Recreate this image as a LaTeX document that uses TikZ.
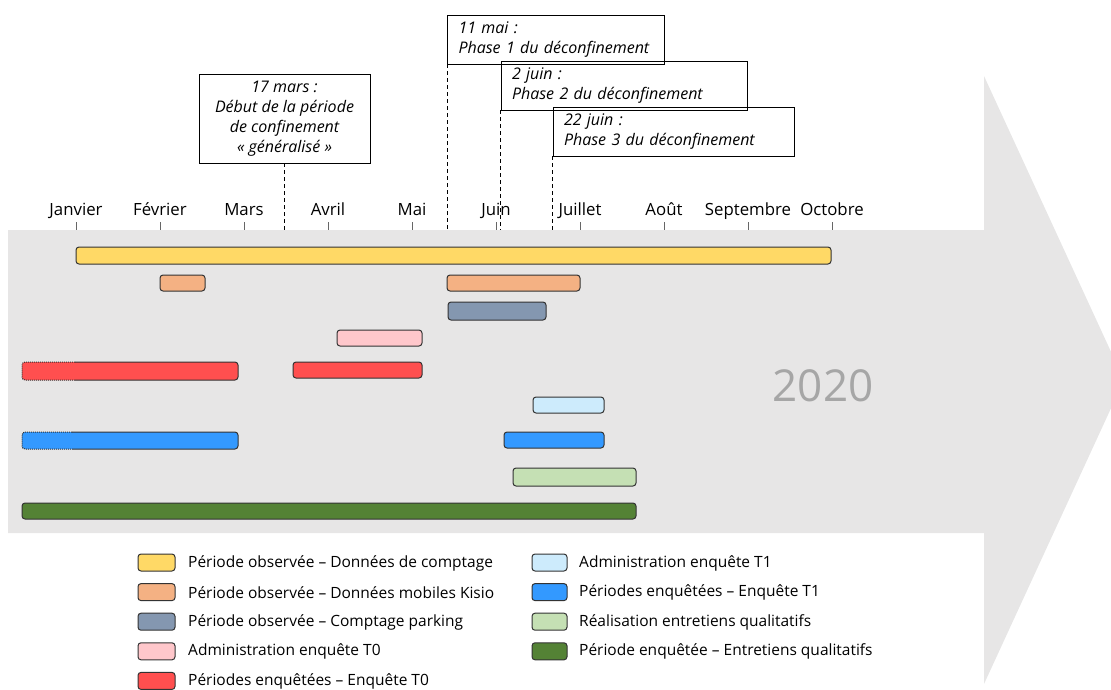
\documentclass[tikz,border=0pt]{standalone}
\usepackage{fontspec}
\setmainfont{Open Sans}
\usepackage{xcolor}
\usepackage{tikz}
\usetikzlibrary{positioning, calc}

\definecolor{fondgris}{HTML}{E7E6E6}
\definecolor{jaune}{HTML}{FFD966}
\definecolor{orange}{HTML}{F4B183}
\definecolor{ardoise}{HTML}{8497B0}
\definecolor{rose}{HTML}{FFC7CB}
\definecolor{rouge}{HTML}{FF4F4F}
\definecolor{bleuclair}{HTML}{CDEBFC}
\definecolor{bleu}{HTML}{3399FF}
\definecolor{vertclair}{HTML}{C5E0B4}
\definecolor{vertfonce}{HTML}{548235}
\definecolor{annee}{HTML}{A6A6A6}

\tikzset{
  mois/.style={font=\fontsize{16.8}{18}\selectfont, inner sep=0pt, anchor=base},
  repere/.style={draw=black!60, line width=0.6pt},
  evenement/.style={draw, line width=0.9pt, align=left, inner xsep=10pt,
    font=\itshape\fontsize{16}{20}\selectfont, minimum height=49pt},
  pointille/.style={dashed, line width=1pt, dash pattern=on 4pt off 3pt},
  barre/.style={draw=black!80, line width=1pt, rounded corners=3pt},
  legende/.style={anchor=west, font=\fontsize{15.5}{17}\selectfont, inner sep=0pt}
}

\begin{document}
\begin{tikzpicture}[x=1pt, y=-1pt]
    \useasboundingbox (0,0) rectangle (1111,689);

    % Fond (fleche 2020)
    \fill[fondgris] (8,230) -- (984,230) -- (984,76) -- (1124,380) -- (984,684)
        -- (984,533) -- (8,533) -- cycle;
    \node (annee) [text=annee, font=\fontsize{44}{44}\selectfont] at (823,386) {2020};

    % Mois
    \coordinate (axe) at (0,230);
    \foreach \m [count=\i from 0] in {Janvier, Février, Mars, Avril, Mai, Juin, Juillet, Août, Septembre, Octobre}{
        \node (m\i) [mois] at (76+84*\i, 215) {\m};
        \draw[repere] (76+84*\i, 222) -- (76+84*\i, 230);
    }

    % Evenements
    \node (mars17) [evenement, align=center, minimum width=171pt, minimum height=89pt] at (284.5,118.5)
        {17 mars :\\Début de la période\\de confinement\\« généralisé »};
    \node (mai11) [evenement, minimum width=217pt, text width=195pt] at (556,39.5)
        {11 mai :\\Phase 1 du déconfinement};
    \node (juin2) [evenement, minimum width=246pt, text width=224pt] at (624,85.5)
        {2 juin :\\Phase 2 du déconfinement};
    \node (juin22) [evenement, minimum width=241pt, text width=219pt] at (673.5,131.5)
        {22 juin :\\Phase 3 du déconfinement};

    \draw[pointille] (mars17.south) -- (mars17.south |- axe);
    \draw[pointille] (mai11.south west) -- (mai11.south west |- axe);
    \draw[pointille] (juin2.south west) -- (juin2.south west |- axe);
    \draw[pointille] (juin22.south west) -- (juin22.south west |- axe);

    % Barres
    \draw[barre, fill=jaune] (76,247) rectangle (831,264);
    \draw[barre, fill=orange] (160,275) rectangle (205,291);
    \draw[barre, fill=orange] (447,275) rectangle (580,291);
    \draw[barre, fill=ardoise] (448,302) rectangle (546,320);
    \draw[barre, fill=rose] (337,330) rectangle (422,346);
    \fill[rouge, rounded corners=3pt] (22,362) rectangle (238,380);
    \draw[barre, densely dotted] (75,362) -- (22,362) -- (22,380) -- (75,380);
    \draw[barre] (75,362) -- (238,362) -- (238,380) -- (75,380);
    \draw[barre, fill=rouge] (293,362) rectangle (422,378);
    \draw[barre, fill=bleuclair] (533,397) rectangle (604,413);
    \fill[bleu, rounded corners=3pt] (22,432) rectangle (238,449);
    \draw[barre, densely dotted] (72,432) -- (22,432) -- (22,449) -- (72,449);
    \draw[barre] (72,432) -- (238,432) -- (238,449) -- (72,449);
    \draw[barre, fill=bleu] (504,432) rectangle (604,448);
    \draw[barre, fill=vertclair] (513,468) rectangle (636,486);
    \draw[barre, fill=vertfonce] (22,503) rectangle (636,519);

    % Legende
    \foreach \c/\t [count=\k from 0] in {jaune/Période observée – Données de comptage,
        orange/Période observée – Données mobiles Kisio,
        ardoise/Période observée – Comptage parking,
        rose/Administration enquête T0,
        rouge/Périodes enquêtées – Enquête T0}{
        \draw[barre, fill=\c] (138,554+29.6*\k) rectangle (175,571+29.6*\k);
        \node (lg\k) [legende] at (188,563+29.6*\k) {\t};
    }
    \foreach \c/\t [count=\k from 0] in {bleuclair/Administration enquête T1,
        bleu/Périodes enquêtées – Enquête T1,
        vertclair/Réalisation entretiens qualitatifs,
        vertfonce/Période enquêtée – Entretiens qualitatifs}{
        \draw[barre, fill=\c] (532,554+29.6*\k) rectangle (567,571+29.6*\k);
        \node (ld\k) [legende] at (579,563+29.6*\k) {\t};
    }
\end{tikzpicture}
\end{document}
